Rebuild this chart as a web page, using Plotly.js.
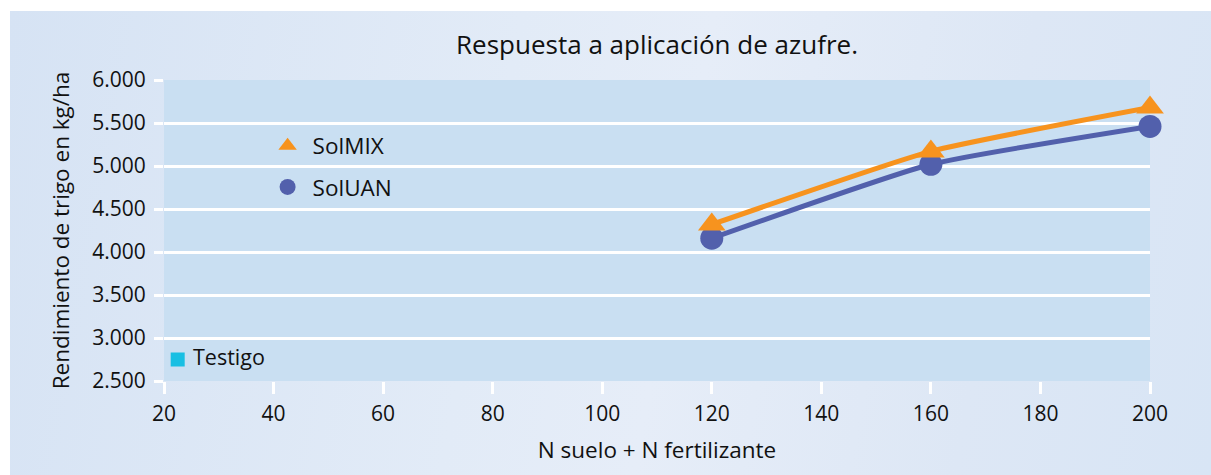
<!DOCTYPE html>
<html>
<head>
<meta charset="utf-8">
<script src="https://cdn.plot.ly/plotly-3.0.1.min.js"></script>
<style>
  html, body { margin: 0; padding: 0; background: #ffffff; }
  #wrap { position: relative; width: 1211px; height: 475px; overflow: hidden; }
  #panel { position: absolute; left: 10px; top: 11px; right: 0; bottom: 0;
    background: linear-gradient(100deg, #d6e3f4 0%, #e2ebf7 40%, #e6edf8 55%, #dde7f5 80%, #d8e5f5 100%); }
  #chart { position: absolute; left: 0; top: 0; width: 1211px; height: 475px; }
</style>
</head>
<body>
<div id="wrap">
  <div id="panel"></div>
  <div id="chart"></div>
</div>
<script>
// Data
const nTotal = [120, 160, 200];
const solMIX = [4320, 5170, 5680];
const solUAN = [4160, 5020, 5460];
const testigoX = [22.5];
const testigoY = [2750];
const seriesNames = ['SolMIX', 'SolUAN', 'Testigo'];
const yTicks = [2500, 3000, 3500, 4000, 4500, 5000, 5500, 6000];
const xTicks = [20, 40, 60, 80, 100, 120, 140, 160, 180, 200];

const FONT = '"Open Sans", "Noto Sans", sans-serif';
const ORANGE = '#f7931e';
const BLUE = '#5260ac';
const CYAN = '#18bfe3';
const TXT = '#111111';

const traces = [
  { x: nTotal, y: solMIX, mode: 'lines', line: { color: ORANGE, width: 5, shape: 'spline', smoothing: 0.45 },
    showlegend: false, hoverinfo: 'skip', cliponaxis: false },
  { x: nTotal, y: solUAN, mode: 'lines', line: { color: BLUE, width: 5, shape: 'spline', smoothing: 0.45 },
    showlegend: false, hoverinfo: 'skip', cliponaxis: false },
  { x: nTotal, y: solUAN, mode: 'markers', name: seriesNames[1], legendgroup: 'b', legendrank: 2,
    marker: { symbol: 'circle', size: 23, color: BLUE }, cliponaxis: false },
  { x: nTotal, y: solMIX, mode: 'markers', name: seriesNames[0], legendgroup: 'a', legendrank: 1,
    marker: { symbol: 'triangle-up', size: 24, color: ORANGE }, cliponaxis: false },
  { x: testigoX, y: testigoY, mode: 'markers+text', text: [' ' + seriesNames[2]], textposition: 'middle right',
    textfont: { family: FONT, size: 21.5, color: TXT },
    marker: { symbol: 'square', size: 14, color: CYAN }, showlegend: false, cliponaxis: false }
];

const layout = {
  width: 1211, height: 475,
  margin: { l: 164, r: 61, t: 80, b: 94, pad: 0 },
  paper_bgcolor: 'rgba(0,0,0,0)',
  plot_bgcolor: '#c9dff2',
  separators: ',.',
  font: { family: FONT, size: 21, color: TXT },
  title: { text: 'Respuesta a aplicación de azufre.', font: { family: FONT, size: 26, color: TXT },
    xref: 'paper', x: 0.5, xanchor: 'center', yref: 'container', y: 1 - 45 / 475, yanchor: 'middle' },
  xaxis: {
    range: [20, 200], tickvals: xTicks, ticktext: xTicks.map(String),
    showgrid: false, zeroline: false, showline: false,
    ticks: 'outside', ticklen: 12, tickwidth: 3, tickcolor: '#ffffff',
    ticklabelstandoff: 2,
    tickfont: { family: FONT, size: 21, color: TXT },
    title: { text: 'N suelo + N fertilizante', font: { family: FONT, size: 22.5, color: TXT }, standoff: 16 },
    automargin: false
  },
  yaxis: {
    range: [2500, 6000], tickvals: yTicks, tickformat: ',d',
    showgrid: true, gridcolor: '#ffffff', gridwidth: 3, zeroline: false, showline: false,
    ticks: 'outside', ticklen: 9, tickwidth: 3, tickcolor: '#ffffff',
    ticklabelstandoff: 4,
    tickfont: { family: FONT, size: 21, color: TXT },
    title: { text: 'Rendimiento de trigo en kg/ha', font: { family: FONT, size: 22.5, color: TXT }, standoff: 16 },
    automargin: false
  },
  showlegend: true,
  legend: {
    x: 0.1, y: 0.852, xanchor: 'left', yanchor: 'top',
    bgcolor: 'rgba(0,0,0,0)', borderwidth: 0,
    font: { family: FONT, size: 22.5, color: TXT },
    traceorder: 'grouped', tracegroupgap: 9, itemwidth: 40
  }
};

Plotly.newPlot('chart', traces, layout, { displayModeBar: false, staticPlot: true });
</script>
</body>
</html>
